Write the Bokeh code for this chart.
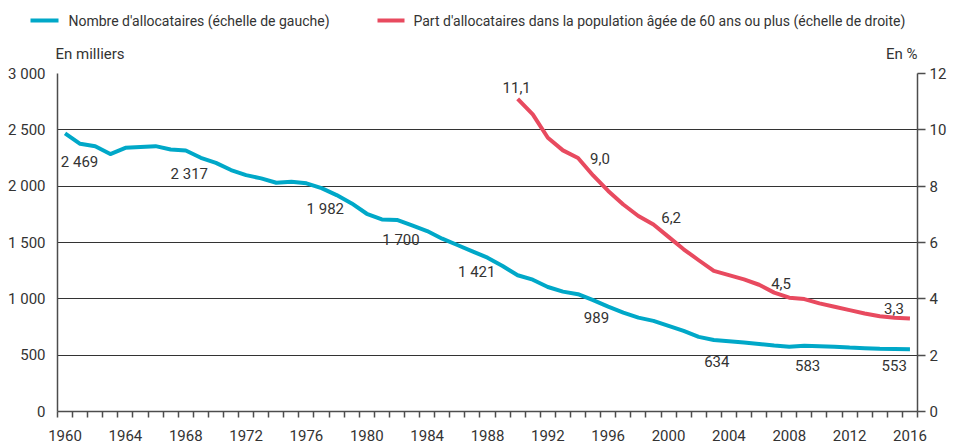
from bokeh.plotting import figure
from bokeh.models import (Range1d, LinearAxis, FixedTicker, ColumnDataSource, LabelSet,
                          Label)
from bokeh.core.properties import value
from bokeh.layouts import column
from bokeh.embed import file_html
from bokeh.resources import INLINE

# ---------------- data ----------------
years = list(range(1960, 2017))
allocataires = [2469, 2376, 2355, 2285, 2340, 2347, 2355, 2326, 2317, 2252,
                2207, 2143, 2098, 2069, 2030, 2039, 2025, 1982, 1921, 1847,
                1755, 1705, 1700, 1652, 1602, 1534, 1478, 1421, 1365, 1292,
                1209, 1170, 1105, 1064, 1041, 989, 931, 878, 833, 804,
                760, 715, 662, 634, 624, 612, 600, 585, 574, 583,
                580, 575, 567, 562, 557, 555, 553]
part_years = list(range(1990, 2017))
part = [11.1, 10.55, 9.72, 9.27, 9.0, 8.38, 7.83, 7.35, 6.94, 6.64,
        6.2, 5.76, 5.37, 4.99, 4.84, 4.69, 4.5, 4.22, 4.04, 3.99,
        3.84, 3.72, 3.60, 3.48, 3.38, 3.33, 3.3]

label_years_a = [1960, 1968, 1977, 1982, 1987, 1995, 2003, 2009, 2016]
label_years_b = [1990, 1994, 2000, 2006, 2016]

x_tick_labels = [1960, 1964, 1968, 1972, 1976, 1980, 1984, 1988, 1992, 1996,
                 2000, 2004, 2008, 2012, 2016]
left_ticks = [0, 500, 1000, 1500, 2000, 2500, 3000]
right_ticks = [0, 2, 4, 6, 8, 10, 12]

legend_a = "Nombre d'allocataires (échelle de gauche)"
legend_b = "Part d'allocataires dans la population âgée de 60 ans ou plus (échelle de droite)"
unit_left = "En milliers"
unit_right = "En %"

# ---------------- styles ----------------
FONT = "Roboto"
TXT = "#333333"
AX = "#4d4d4d"
BLUE = "#00A8C8"
RED = "#E84A5F"
FS = "15px"

def fmt_fr(v):
    return f"{int(v):,}".replace(",", " ")

# ---------- top strip: legend + units (pixel-unit ranges) ----------
W, HT = 959, 63
top = figure(width=W, height=HT, output_backend="svg", toolbar_location=None,
             x_range=Range1d(0, W), y_range=Range1d(0, HT),
             min_border=0, min_border_left=0, min_border_right=0,
             min_border_top=0, min_border_bottom=0)
top.frame_align = False
top.outline_line_color = None
top.xaxis.visible = False
top.yaxis.visible = False
top.xgrid.visible = False
top.ygrid.visible = False

LEG_Y = 43
top.segment(x0=[30, 377], y0=[LEG_Y, LEG_Y], x1=[58, 404], y1=[LEG_Y, LEG_Y],
            line_color=[BLUE, RED], line_width=4)
for xpos, txt in [(68, legend_a), (413, legend_b)]:
    top.add_layout(Label(x=xpos, y=LEG_Y, text=txt, text_align="left",
                         text_baseline="middle", text_font=FONT,
                         text_font_size="14px", text_color=TXT))
top.add_layout(Label(x=55, y=10, text=unit_left, text_align="left",
                     text_baseline="middle", text_font=FONT, text_font_size=FS,
                     text_color=TXT))
top.add_layout(Label(x=917, y=10, text=unit_right, text_align="right",
                     text_baseline="middle", text_font=FONT, text_font_size=FS,
                     text_color=TXT))

# ---------- main chart ----------
p = figure(width=W, height=443 - HT, output_backend="svg", toolbar_location=None,
           x_range=Range1d(1959.5, 2016.5), y_range=Range1d(0, 3000),
           min_border_left=57, min_border_right=42, min_border_top=10,
           min_border_bottom=32)
p.frame_align = False
p.outline_line_color = None
p.xgrid.visible = False
p.ygrid.ticker = FixedTicker(ticks=left_ticks)
p.ygrid.grid_line_color = "#333333"
p.ygrid.grid_line_width = 1

p.extra_y_ranges = {"pct": Range1d(0, 12)}

xa = p.xaxis[0]
xa.ticker = FixedTicker(ticks=x_tick_labels,
                        minor_ticks=[y - 0.5 for y in years] + [years[-1] + 0.5])
xa.major_tick_out = 0
xa.major_tick_in = 0
xa.minor_tick_out = 6
xa.minor_tick_in = 0
xa.minor_tick_line_color = AX
xa.minor_tick_line_width = 1.5
xa.axis_line_color = AX
xa.axis_line_width = 1.5
xa.major_label_standoff = 12
xa.major_label_text_font = FONT
xa.major_label_text_font_size = FS
xa.major_label_text_color = TXT

ya = p.yaxis[0]
ya.ticker = FixedTicker(ticks=left_ticks)
ya.major_label_overrides = {t: fmt_fr(t) for t in left_ticks}
ya.major_tick_out = 0
ya.major_tick_in = 0
ya.minor_tick_out = 0
ya.minor_tick_in = 0
ya.axis_line_color = AX
ya.axis_line_width = 1.5
ya.major_label_standoff = 12
ya.major_label_text_font = FONT
ya.major_label_text_font_size = FS
ya.major_label_text_color = TXT

ra = LinearAxis(y_range_name="pct", ticker=FixedTicker(ticks=right_ticks))
ra.major_tick_out = 8
ra.major_tick_in = 0
ra.minor_tick_out = 0
ra.minor_tick_in = 0
ra.major_tick_line_color = AX
ra.major_tick_line_width = 1.5
ra.axis_line_color = AX
ra.axis_line_width = 1.5
ra.major_label_standoff = 4
ra.major_label_text_font = FONT
ra.major_label_text_font_size = FS
ra.major_label_text_color = TXT
p.add_layout(ra, "right")

blue = p.line(years, allocataires, line_color=BLUE, line_width=4, line_join="round")
red = p.line(part_years, part, line_color=RED, line_width=4, line_join="round",
             y_range_name="pct")

a_vals = [allocataires[years.index(y)] for y in label_years_a]
src_a = ColumnDataSource(dict(
    x=label_years_a, y=a_vals, t=[fmt_fr(v) for v in a_vals],
    dx=[14.5, 3.6, 3.8, 4, 4.3, 3.4, 3, 3.3, -15.7],
    dy=[-28.5, -24, -20.6, -20.4, -20.3, -17, -21.5, -20, -16.7]))
p.add_layout(LabelSet(x="x", y="y", text="t", source=src_a, x_offset="dx", y_offset="dy",
                      text_align="center", text_baseline="middle", text_font=value(FONT),
                      text_font_size=value(FS), text_color=TXT))

b_vals = [part[part_years.index(y)] for y in label_years_b]
src_b = ColumnDataSource(dict(
    x=label_years_b, y=b_vals, t=[f"{v:.1f}".replace(".", ",") for v in b_vals],
    dx=[-1, 22, 2.6, 22, -16],
    dy=[11, 0, 19, 1, 10]))
p.add_layout(LabelSet(x="x", y="y", text="t", source=src_b, x_offset="dx", y_offset="dy",
                      y_range_name="pct",
                      text_align="center", text_baseline="middle", text_font=value(FONT),
                      text_font_size=value(FS), text_color=TXT))

layout = column(top, p, spacing=0)
open("out.html", "w").write(file_html(layout, INLINE))
